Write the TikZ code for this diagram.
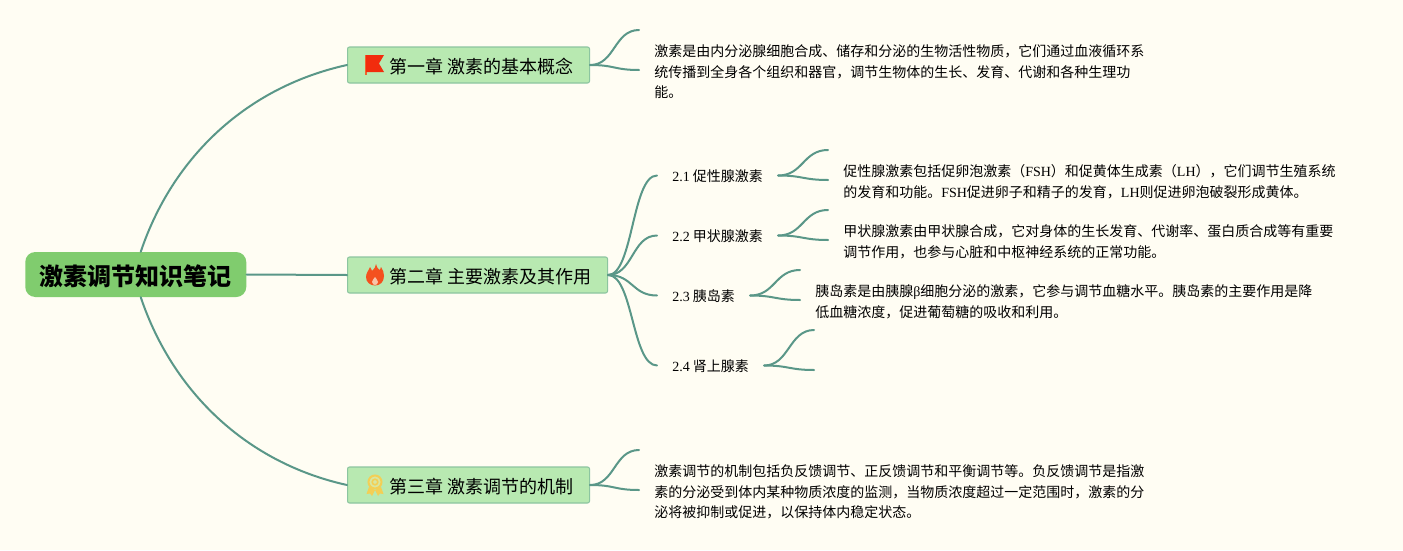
\documentclass[tikz,border=0pt]{standalone}
\usepackage{fontspec}
\setmainfont{Noto Sans CJK SC}
\newfontfamily\latnf{Liberation Serif}
\newcommand{\latn}[1]{{\latnf #1}}
\newcommand{\lowered}[2]{\raisebox{-#1}[\height][\depth]{#2}}
\definecolor{bgc}{HTML}{FFFDF3}
\definecolor{linec}{HTML}{5A9788}
\definecolor{rootc}{HTML}{80CC6E}
\definecolor{chapc}{HTML}{B8E9B1}
\definecolor{chapb}{HTML}{8CC5A0}
\definecolor{flagpole}{HTML}{F0632F}
\definecolor{flagred}{HTML}{F22C0D}
\definecolor{firec}{HTML}{F4511E}
\definecolor{firein}{HTML}{F9C3A8}
\definecolor{medalc}{HTML}{F3CF55}
\definecolor{medalin}{HTML}{D9E6A0}
\tikzset{
  x=0.75pt,y=-0.75pt,
  conn/.style={draw=linec,line width=1.5pt,line cap=round},
  rootbox/.style={fill=rootc,rounded corners=7.5pt,minimum width=165.75pt,minimum height=33.75pt,inner sep=0pt,font=\fontsize{18}{22}\selectfont\bfseries,anchor=west},
  chapbox/.style={fill=chapc,draw=chapb,line width=0.8pt,rounded corners=1.5pt,minimum height=27pt,inner sep=0pt,anchor=west},
  chaptext/.style={anchor=west,inner sep=0pt,font=\fontsize{13.5}{16}\selectfont},
  subbox/.style={inner ysep=0pt,inner xsep=11.25pt,anchor=west,font=\fontsize{10.5}{13}\selectfont},
  notebox/.style={inner sep=0pt,anchor=west,align=left,font=\fontsize{10.5}{15.4}\selectfont},
}
\begin{document}
\begin{tikzpicture}
\useasboundingbox (0,0) rectangle (1403,550);
\fill[bgc] (0,0) rectangle (1403,550);
% nodes
\node[rootbox] (root) at (25,274.5) {\lowered{1.5pt}{激素调节知识笔记}};
\node[chapbox,minimum width=181.5pt] (ch1) at (347,65) {};
\node[chapbox,minimum width=195pt] (ch2) at (347,275) {};
\node[chapbox,minimum width=181.5pt] (ch3) at (347,485) {};
\node[chaptext] (t1) at (389,67) {第一章 激素的基本概念};
\node[chaptext] (t2) at (389,277) {第二章 主要激素及其作用};
\node[chaptext] (t3) at (389,487) {第三章 激素调节的机制};
\node[subbox] (s1) at (657,175.5) {\lowered{0.75pt}{\latn{2.1} 促性腺激素}};
\node[subbox] (s2) at (657,235.5) {\lowered{0.75pt}{\latn{2.2} 甲状腺激素}};
\node[subbox] (s3) at (657,295.5) {\lowered{0.75pt}{\latn{2.3} 胰岛素}};
\node[subbox] (s4) at (657,365.5) {\lowered{0.75pt}{\latn{2.4} 肾上腺素}};
\node[notebox] (n1) at (654,72) {激素是由内分泌腺细胞合成、储存和分泌的生物活性物质，它们通过血液循环系\\统传播到全身各个组织和器官，调节生物体的生长、发育、代谢和各种生理功\\能。};
\node[notebox] (n21) at (843,182) {促性腺激素包括促卵泡激素（\latn{FSH}）和促黄体生成素（\latn{LH}），它们调节生殖系统\\的发育和功能。\latn{FSH}促进卵子和精子的发育，\latn{LH}则促进卵泡破裂形成黄体。};
\node[notebox] (n22) at (843,242) {甲状腺激素由甲状腺合成，它对身体的生长发育、代谢率、蛋白质合成等有重要\\调节作用，也参与心脏和中枢神经系统的正常功能。};
\node[notebox] (n23) at (815,302) {胰岛素是由胰腺\latn{β}细胞分泌的激素，它参与调节血糖水平。胰岛素的主要作用是降\\低血糖浓度，促进葡萄糖的吸收和利用。};
\node[notebox] (n3) at (654,492) {激素调节的机制包括负反馈调节、正反馈调节和平衡调节等。负反馈调节是指激\\素的分泌受到体内某种物质浓度的监测，当物质浓度超过一定范围时，激素的分\\泌将被抑制或促进，以保持体内稳定状态。};
% free ends
\coordinate (c1a) at (639,30);  \coordinate (c1b) at (639,70);
\coordinate (c21a) at (828,150); \coordinate (c21b) at (828,180);
\coordinate (c22a) at (828,210); \coordinate (c22b) at (828,240);
\coordinate (c23a) at (800,270); \coordinate (c23b) at (800,300);
\coordinate (c24a) at (814,330); \coordinate (c24b) at (814,370);
\coordinate (c3a) at (639,450);  \coordinate (c3b) at (639,490);
% connectors
\draw[conn] ([xshift=3.75pt]root.north) .. controls +(32,-95) and +(-100,22) .. (ch1.west);
\draw[conn] ([xshift=3.75pt]root.south) .. controls +(32,95) and +(-100,-22) .. (ch3.west);
\draw[conn] (root.east) -- (ch2.west);
\draw[conn] (ch1.east) .. controls +(25,0) and +(-25,0) .. (c1a);
\draw[conn] (ch3.east) .. controls +(25,0) and +(-25,0) .. (c3a);
\draw[conn] (ch1.east) .. controls +(25,0) and +(-25,0) .. (c1b);
\draw[conn] (ch3.east) .. controls +(25,0) and +(-25,0) .. (c3b);
\foreach \b in {s1,s2,s3,s4}{
  \draw[conn] (ch2.east) .. controls +(25,0) and +(-25,0) .. (\b.west);
}
\foreach \a/\b/\c in {s1/c21a/c21b,s2/c22a/c22b,s3/c23a/c23b,s4/c24a/c24b}{
  \draw[conn] (\a.east) .. controls +(25,0) and +(-25,0) .. (\b);
  \draw[conn] (\a.east) .. controls +(25,0) and +(-25,0) .. (\c);
}
% flag icon
\fill[flagpole] (365,55) rectangle (367,75);
\fill[flagred] (366,55) -- (384,55) -- (379,63.5) -- (384,72) -- (366,72) -- cycle;
% fire icon
\fill[firec] (376,264) .. controls (377,269) and (380,270) .. (380,270) .. controls (380.5,268) and (381,267) .. (381,267)
  .. controls (383,270) and (384,273) .. (384,276) .. controls (384,282) and (380,285.5) .. (375,285.5)
  .. controls (370,285.5) and (366,282) .. (366,277) .. controls (366,273) and (369,270) .. (370,267)
  .. controls (371,269) and (372,270) .. (372,271) .. controls (374,269) and (376,267) .. (376,264) -- cycle;
\fill[firein] (375,277) .. controls (376,279) and (378,280) .. (378,282) .. controls (378,284) and (376,285) .. (375,285)
  .. controls (374,285) and (372,284) .. (372,282) .. controls (372,280) and (374,279) .. (375,277) -- cycle;
% medal icon
\fill[medalc] (369,487) -- (366.5,494) -- (370,493.5) -- (372,496) -- (375,490) -- cycle;
\fill[medalc] (381,487) -- (383.5,494) -- (380,493.5) -- (378,496) -- (375,490) -- cycle;
\draw[medalc,line width=1.5pt,fill=medalin] (375,482) circle[radius=6.5];
\draw[medalc,line width=1.2pt] (375,482) circle[radius=2.8];
\end{tikzpicture}
\end{document}
